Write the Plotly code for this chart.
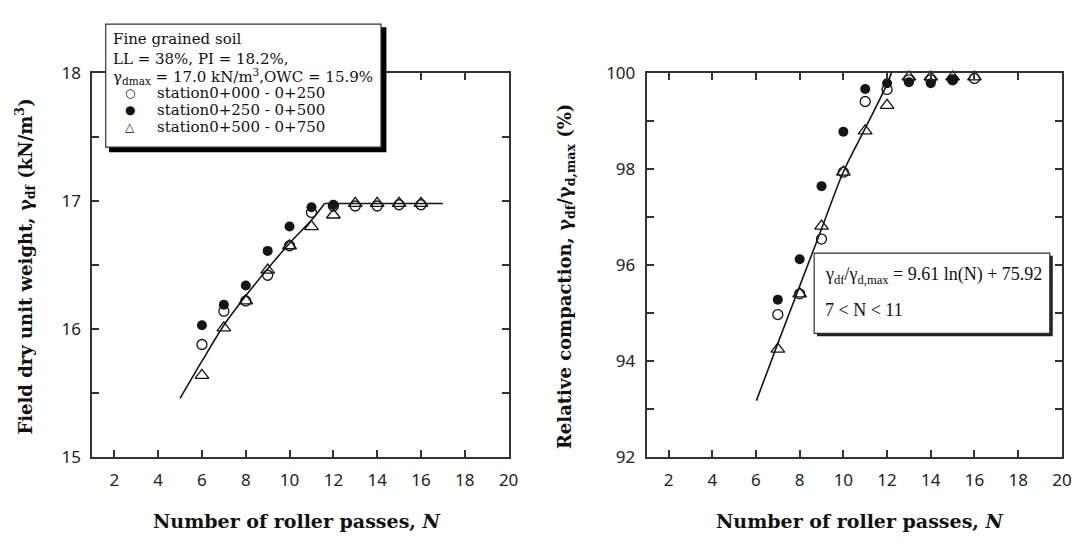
import plotly.graph_objects as go

W, H = 1091, 545

# ---------------- data ----------------
# Left panel: field dry unit weight (kN/m3) vs number of roller passes
N_open_L = [6, 7, 8, 9, 10, 11, 12, 13, 14, 15, 16]
gd_open_L = [15.88, 16.14, 16.22, 16.42, 16.65, 16.91, 16.96, 16.96, 16.96, 16.97, 16.97]
N_fill_L = [6, 7, 8, 9, 10, 11, 12]
gd_fill_L = [16.03, 16.19, 16.34, 16.61, 16.80, 16.95, 16.97]
N_tri_L = [6, 7, 8, 9, 10, 11, 12, 13, 14, 15, 16]
gd_tri_L = [15.64, 16.01, 16.22, 16.46, 16.65, 16.80, 16.89, 16.98, 16.98, 16.98, 16.98]
# trend line
N_fit_L = [5.0, 6, 7, 8, 9, 10, 11, 11.6]
gd_fit_L = [15.46, 15.75, 16.03, 16.26, 16.47, 16.67, 16.85, 16.98]
N_flat_L = [11.6, 17.0]
gd_flat_L = [16.98, 16.98]

# Right panel: relative compaction (%) vs number of roller passes
N_open_R = [7, 8, 9, 10, 11, 12, 13, 14, 15, 16]
rc_open_R = [94.97, 95.40, 96.54, 97.93, 99.40, 99.65, 99.85, 99.85, 99.85, 99.88]
N_fill_R = [7, 8, 9, 10, 11, 12, 13, 14, 15]
rc_fill_R = [95.28, 96.12, 97.64, 98.77, 99.66, 99.78, 99.80, 99.78, 99.85]
N_tri_R = [7, 8, 9, 10, 11, 12, 13, 14, 15, 16]
rc_tri_R = [94.25, 95.40, 96.81, 97.93, 98.79, 99.32, 99.91, 99.91, 99.91, 99.91]
N_fit_R = [6.02, 7, 8, 9, 10, 11, 12, 12.2]
rc_fit_R = [93.18, 94.37, 95.56, 96.75, 97.94, 98.84, 99.76, 100.0]

x_ticks = [2, 4, 6, 8, 10, 12, 14, 16, 18, 20]
series_names = ["station0+000 - 0+250", "station0+250 - 0+500", "station0+500 - 0+750"]

# ---------------- helpers (pixel -> paper) ----------------
def px(x):
    return x / W

def py(y):
    return 1 - y / H

INK = "#151515"
AX = "#333333"

fig = go.Figure()

def add_panel(xa, ya, No, yo, Nf, yf, Nt, yt):
    fig.add_trace(go.Scatter(x=No, y=yo, mode="markers", xaxis=xa, yaxis=ya, cliponaxis=False,
                             marker=dict(symbol="circle-open", size=10, color=INK, line=dict(width=1.3, color=INK)),
                             showlegend=False))
    fig.add_trace(go.Scatter(x=Nf, y=yf, mode="markers", xaxis=xa, yaxis=ya, cliponaxis=False,
                             marker=dict(symbol="circle", size=10, color=INK),
                             showlegend=False))
    fig.add_trace(go.Scatter(x=Nt, y=yt, mode="markers", xaxis=xa, yaxis=ya, cliponaxis=False,
                             marker=dict(symbol="triangle-up-open", size=12, color=INK, line=dict(width=1.3, color=INK)),
                             showlegend=False))

fig.add_trace(go.Scatter(x=N_fit_L, y=gd_fit_L, mode="lines", xaxis="x", yaxis="y",
                         line=dict(color=INK, width=1.6, shape="spline", smoothing=0.8), showlegend=False))
fig.add_trace(go.Scatter(x=N_flat_L, y=gd_flat_L, mode="lines", xaxis="x", yaxis="y",
                         line=dict(color=INK, width=1.6), showlegend=False))
fig.add_trace(go.Scatter(x=N_fit_R, y=rc_fit_R, mode="lines", xaxis="x2", yaxis="y2", cliponaxis=False,
                         line=dict(color=INK, width=1.6, shape="spline", smoothing=0.8), showlegend=False))

add_panel("x", "y", N_open_L, gd_open_L, N_fill_L, gd_fill_L, N_tri_L, gd_tri_L)
add_panel("x2", "y2", N_open_R, rc_open_R, N_fill_R, rc_fill_R, N_tri_R, rc_tri_R)

tickfont = dict(family="Noto Sans", size=17, color="#222222")

def xaxis_cfg(dom):
    return dict(domain=dom, range=[1, 20], tickvals=x_ticks, ticks="inside", ticklen=7, tickwidth=2,
                tickcolor=AX, mirror="allticks", showline=True, linecolor=AX, linewidth=2,
                showgrid=False, zeroline=False, tickfont=tickfont, ticklabelstandoff=6)

def yaxis_cfg(rng, dtick, minor):
    return dict(domain=[py(465), py(63.3)], range=rng, dtick=dtick, ticks="inside", ticklen=7, tickwidth=2,
                tickcolor=AX, mirror="allticks", showline=True, linecolor=AX, linewidth=2,
                showgrid=False, zeroline=False, tickfont=tickfont, ticklabelstandoff=6,
                minor=dict(dtick=minor, ticks="inside", ticklen=7, tickwidth=2, tickcolor=AX, showgrid=False))

fig.update_layout(
    width=W, height=H, autosize=False,
    margin=dict(l=0, r=0, t=0, b=0),
    paper_bgcolor="white", plot_bgcolor="white",
    xaxis=xaxis_cfg([px(93.3), px(513.3)]),
    yaxis=yaxis_cfg([15, 18], 1, 0.5),
    xaxis2=dict(xaxis_cfg([px(652.7), px(1071.7)]), anchor="y2"),
    yaxis2=dict(yaxis_cfg([92, 100], 2, 1), anchor="x2"),
)
fig.layout.xaxis.anchor = "y"
fig.layout.yaxis.anchor = "x"

shapes = []
# legend box with shadow (left panel)
shapes.append(dict(type="rect", xref="paper", yref="paper", x0=px(110), x1=px(390), y0=py(146.5), y1=py(16),
                   fillcolor="black", line=dict(width=0), layer="above"))
shapes.append(dict(type="rect", xref="paper", yref="paper", x0=px(106.7), x1=px(384.5), y0=py(141), y1=py(12.7),
                   fillcolor="white", line=dict(color="#333", width=1.2), layer="above"))
# equation box with shadow (right panel)
shapes.append(dict(type="rect", xref="paper", yref="paper", x0=px(824.5), x1=px(1062.5), y0=py(338.5), y1=py(254.5),
                   fillcolor="#222", line=dict(width=0), layer="above"))
shapes.append(dict(type="rect", xref="paper", yref="paper", x0=px(821.7), x1=px(1059.5), y0=py(335.5), y1=py(251.7),
                   fillcolor="white", line=dict(color="#333", width=1.2), layer="above"))
fig.update_layout(shapes=shapes)

serif = "Liberation Serif"
wide_serif = "DejaVu Serif"
ann = []

def text(x, y, s, size=17, anchor="left", bold=False, angle=0, family=serif):
    ann.append(dict(xref="paper", yref="paper", x=px(x), y=py(y), text=("<b>%s</b>" % s) if bold else s,
                    showarrow=False, xanchor=anchor, yanchor="middle", textangle=angle,
                    font=dict(family=family, size=size, color="#111111")))

# legend texts
text(112, 28.3, "Fine grained soil", size=15, family=wide_serif)
text(112, 49.5, "LL = 38%, PI = 18.2%,", size=15, family=wide_serif)
text(112, 67.5, "γ<sub>dmax</sub> = 17.0 kN/m<sup>3</sup>,OWC = 15.9%", size=15, family=wide_serif)
legend_symbols = ["○", "●", "△"]
for i, (sym, name) in enumerate(zip(legend_symbols, series_names)):
    yy = 85 + i * 17.3
    text(131, yy, sym, size=12, anchor="center", family="DejaVu Sans")
    text(156, yy, name, size=15, family=wide_serif)

# equation box
text(831, 275, "γ<sub>df</sub>/γ<sub>d,max</sub> = 9.61 ln(N) + 75.92", size=18)
text(831, 311.5, "7 &lt; N &lt; 11", size=18)

# axis titles
text(300, 531, "Number of roller passes, <i>N</i>", size=19, anchor="center", bold=True, family=wide_serif)
text(868, 531, "Number of roller passes, <i>N</i>", size=19, anchor="center", bold=True, family=wide_serif)
text(25, 266, "Field dry unit weight, γ<sub>df</sub> (kN/m<sup>3</sup>)", size=18, anchor="center", bold=True,
     angle=-90, family=wide_serif)
text(572, 276, "Relative compaction, γ<sub>df</sub>/γ<sub>d,max</sub> (%)", size=18, anchor="center", bold=True,
     angle=-90, family=wide_serif)

fig.update_layout(annotations=ann)

fig.write_html("out.html")
